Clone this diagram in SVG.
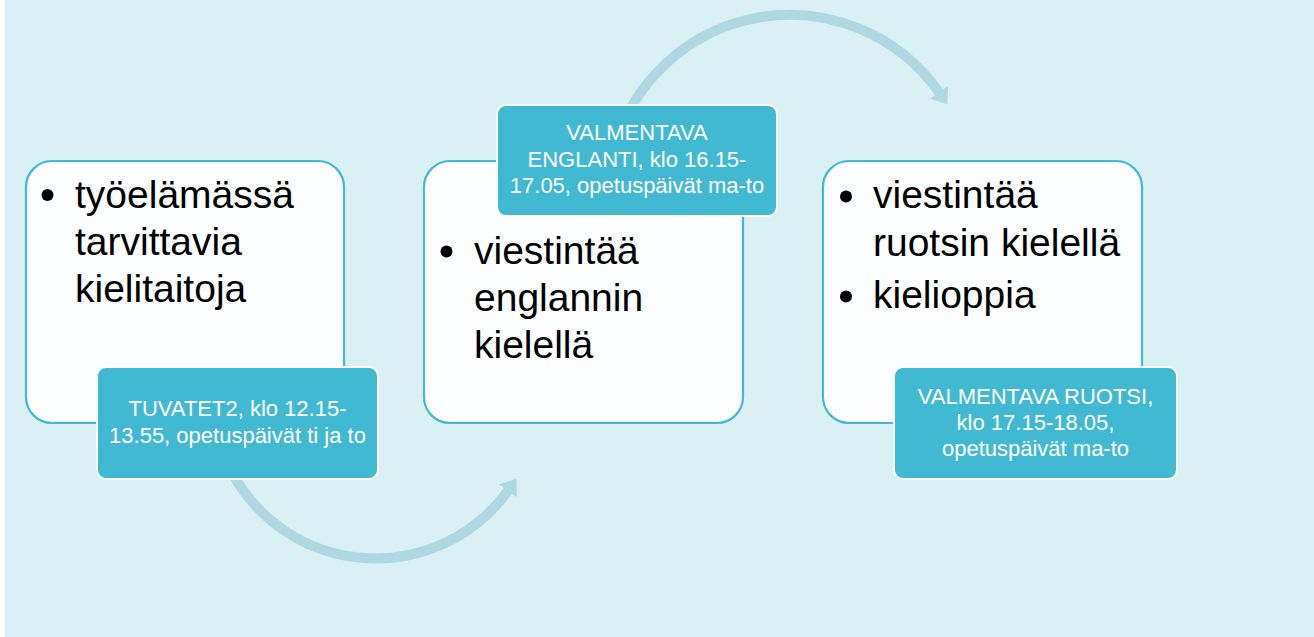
<svg xmlns="http://www.w3.org/2000/svg" width="1314" height="637" viewBox="0 0 1314 637">
<style>
.box{fill:#FBFDFF;stroke:#42B8D2;stroke-width:2.2}
.lab{fill:#42B9D3;stroke:#FFFFFF;stroke-width:2}
.main{font-family:"Liberation Sans",Arial,sans-serif;font-size:39px;fill:#000000}
.lt{font-family:"Liberation Sans",Arial,sans-serif;font-size:22px;fill:#FFFFFF;text-anchor:middle}
.arc{fill:none;stroke:#ADD8E4;stroke-width:10}
</style>
<defs>
<marker id="ah" markerUnits="userSpaceOnUse" viewBox="0 -11 16 22" refX="1" refY="0" markerWidth="16" markerHeight="22" orient="auto">
<path d="M0,-11 L15,0 L0,11 Z" fill="#ADD8E4"/>
</marker>
</defs>
<rect x="0" y="0" width="1314" height="637" fill="#FFFFFF"/>
<rect x="5" y="0" width="1309" height="637" fill="#D9F0F5"/>
<g id="connectors">
<path class="arc" d="M226,460 A163,163 0 0 0 508.4,490.1" marker-end="url(#ah)"/>
<path class="arc" d="M614,150 A182,182 0 0 1 939.5,93.1" marker-end="url(#ah)"/>
</g>
<g id="node1">
<rect class="box" x="26" y="161" width="318" height="262" rx="26"/>
<circle cx="47.5" cy="195" r="6"/>
<text class="main" x="75" y="208">työelämässä</text>
<text class="main" x="75" y="255">tarvittavia</text>
<text class="main" x="75" y="302">kielitaitoja</text>
</g>
<g id="node2">
<rect class="box" x="424" y="161" width="319" height="262" rx="26"/>
<circle cx="446.5" cy="251.5" r="6"/>
<text class="main" x="474" y="264">viestintää</text>
<text class="main" x="474" y="311">englannin</text>
<text class="main" x="474" y="358">kielellä</text>
</g>
<g id="node3">
<rect class="box" x="823" y="161" width="319" height="262" rx="26"/>
<circle cx="846" cy="196.5" r="6"/>
<text class="main" x="873" y="208">viestintää</text>
<text class="main" x="873" y="256">ruotsin kielellä</text>
<circle cx="846" cy="296.5" r="6"/>
<text class="main" x="873" y="308">kielioppia</text>
</g>
<g id="label1">
<rect class="lab" x="97" y="367" width="281" height="112" rx="9"/>
<text class="lt" x="237.5" y="416">TUVATET2, klo 12.15-</text>
<text class="lt" x="237.5" y="443">13.55, opetuspäivät ti ja to</text>
</g>
<g id="label2">
<rect class="lab" x="497" y="105" width="280" height="111" rx="9"/>
<text class="lt" x="637" y="140">VALMENTAVA</text>
<text class="lt" x="637" y="167">ENGLANTI, klo 16.15-</text>
<text class="lt" x="637" y="193">17.05, opetuspäivät ma-to</text>
</g>
<g id="label3">
<rect class="lab" x="894" y="367" width="283" height="112" rx="9"/>
<text class="lt" x="1035.5" y="404">VALMENTAVA RUOTSI,</text>
<text class="lt" x="1035.5" y="430">klo 17.15-18.05,</text>
<text class="lt" x="1035.5" y="456">opetuspäivät ma-to</text>
</g>
</svg>
